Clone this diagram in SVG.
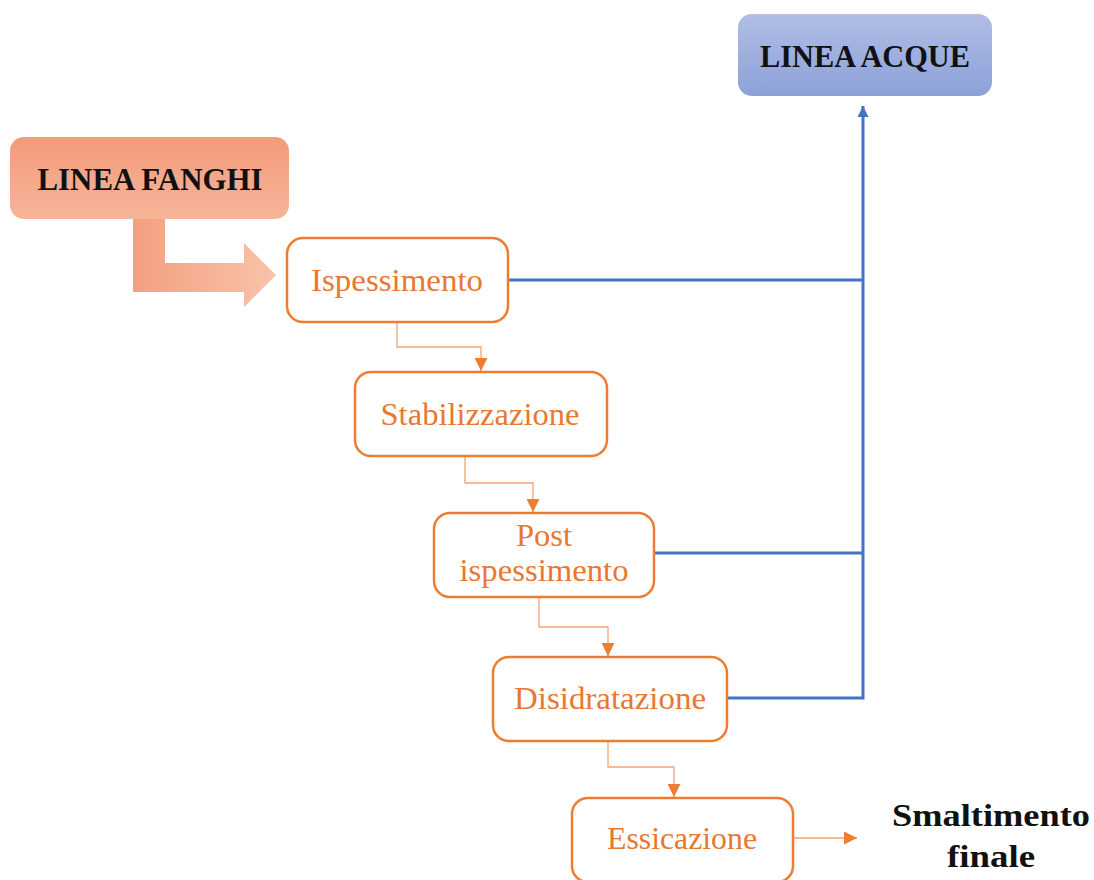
<svg xmlns="http://www.w3.org/2000/svg" width="1094" height="880" viewBox="0 0 1094 880">
  <defs>
    <linearGradient id="gFanghi" x1="0" y1="0" x2="0" y2="1">
      <stop offset="0" stop-color="#f29b7b"/>
      <stop offset="1" stop-color="#f6b598"/>
    </linearGradient>
    <linearGradient id="gArrow" x1="0" y1="0" x2="1" y2="0">
      <stop offset="0" stop-color="#f39f80"/>
      <stop offset="1" stop-color="#f8c3a8"/>
    </linearGradient>
    <linearGradient id="gAcque" x1="0" y1="0" x2="0" y2="1">
      <stop offset="0" stop-color="#b0bde6"/>
      <stop offset="1" stop-color="#8da1d8"/>
    </linearGradient>
    <marker id="arrOrange" viewBox="0 0 10 10" refX="10" refY="5" markerWidth="13" markerHeight="13" markerUnits="userSpaceOnUse" orient="auto">
      <path d="M0,0 L10,5 L0,10 Z" fill="#ed7d31"/>
    </marker>
    <marker id="arrBlue" viewBox="0 0 10 10" refX="10" refY="5" markerWidth="11" markerHeight="11" markerUnits="userSpaceOnUse" orient="auto">
      <path d="M0,0 L10,5 L0,10 Z" fill="#4472c4"/>
    </marker>
  </defs>
  <style>
    .step rect { fill: #ffffff; stroke: #ed7d31; stroke-width: 2.5; }
    .step text { font-family: "Liberation Serif", serif; font-size: 32px; fill: #e8782f; text-anchor: middle; }
    .head text { font-family: "Liberation Serif", serif; font-size: 31px; font-weight: bold; fill: #111111; text-anchor: middle; }
    .big { font-size: 34px; }
    .flow { fill: none; stroke: #f2a477; stroke-width: 1.3; }
    .water { fill: none; stroke: #4472c4; stroke-width: 3; }
  </style>

  <rect width="1094" height="880" fill="#ffffff"/>

  <!-- bent arrow from the sludge line into the first step -->
  <path d="M133,219 L165,219 L165,263 L244,263 L244,243 L276,275 L244,307 L244,292 L133,292 Z" fill="url(#gArrow)"/>

  <g id="linea-fanghi" class="head">
    <rect x="10" y="137" width="279" height="82" rx="14" fill="url(#gFanghi)"/>
    <text x="150" y="190" textLength="225" lengthAdjust="spacingAndGlyphs">LINEA FANGHI</text>
  </g>

  <g id="linea-acque" class="head">
    <rect x="738" y="14" width="254" height="82" rx="14" fill="url(#gAcque)"/>
    <text x="865" y="67" textLength="210" lengthAdjust="spacingAndGlyphs">LINEA ACQUE</text>
  </g>

  <g id="connectors">
    <!-- sludge process chain -->
    <path class="flow" d="M397,322 V347 H481 V371" marker-end="url(#arrOrange)"/>
    <path class="flow" d="M465,456 V483 H533 V512" marker-end="url(#arrOrange)"/>
    <path class="flow" d="M539,597 V627 H608 V656" marker-end="url(#arrOrange)"/>
    <path class="flow" d="M608,741 V767 H674 V797" marker-end="url(#arrOrange)"/>
    <path class="flow" d="M793,838 H857" marker-end="url(#arrOrange)"/>
    <!-- return flows to the water line -->
    <path class="water" d="M508,280 H863"/>
    <path class="water" d="M654,553 H863"/>
    <path class="water" d="M727,698 H863 V106" marker-end="url(#arrBlue)"/>
  </g>

  <g id="ispessimento" class="step">
    <rect x="287" y="238" width="221" height="84" rx="16"/>
    <text x="397" y="291" textLength="172" lengthAdjust="spacingAndGlyphs">Ispessimento</text>
  </g>

  <g id="stabilizzazione" class="step">
    <rect x="355" y="372" width="252" height="84" rx="16"/>
    <text x="480" y="425" textLength="199" lengthAdjust="spacingAndGlyphs">Stabilizzazione</text>
  </g>

  <g id="post-ispessimento" class="step">
    <rect x="434" y="513" width="220" height="84" rx="16"/>
    <text x="544" y="546" textLength="56" lengthAdjust="spacingAndGlyphs">Post</text>
    <text x="544" y="581" textLength="169" lengthAdjust="spacingAndGlyphs">ispessimento</text>
  </g>

  <g id="disidratazione" class="step">
    <rect x="493" y="657" width="234" height="84" rx="16"/>
    <text x="610" y="709" textLength="192" lengthAdjust="spacingAndGlyphs">Disidratazione</text>
  </g>

  <g id="essicazione" class="step">
    <rect x="572" y="798" width="221" height="84" rx="16"/>
    <text x="682" y="849" textLength="150" lengthAdjust="spacingAndGlyphs">Essicazione</text>
  </g>

  <g id="smaltimento-finale" class="head">
    <text class="big" x="991" y="826" textLength="198" lengthAdjust="spacingAndGlyphs">Smaltimento</text>
    <text class="big" x="991" y="867" textLength="88" lengthAdjust="spacingAndGlyphs">finale</text>
  </g>
</svg>
